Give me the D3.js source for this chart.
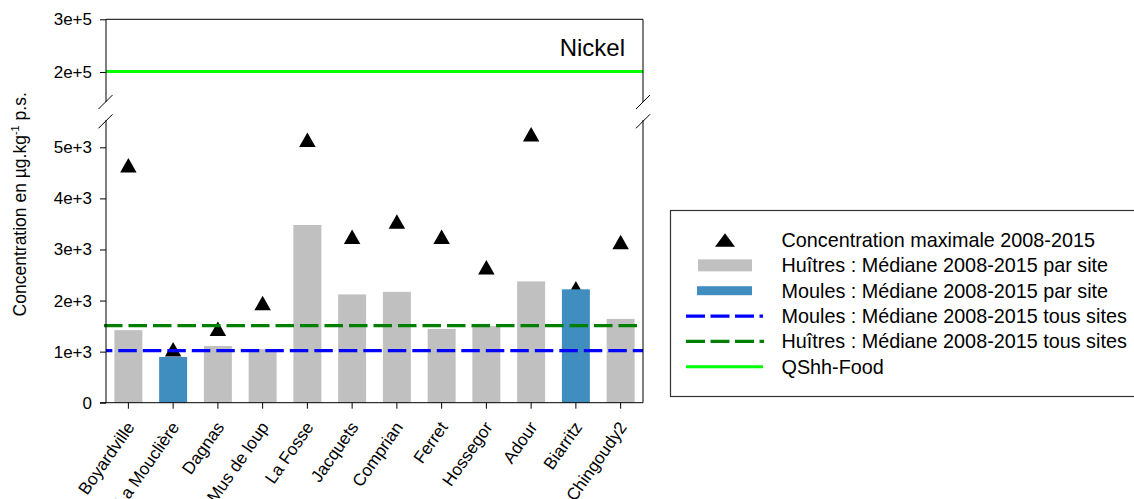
<!DOCTYPE html>
<html>
<head>
<meta charset="utf-8">
<script src="https://cdn.jsdelivr.net/npm/d3@7"></script>
<style>
  html, body { margin: 0; padding: 0; background: #fff; }
  svg { display: block; font-family: "Liberation Sans", Arial, sans-serif; }
</style>
</head>
<body>
<svg id="chart" width="1134" height="499"></svg>
<script>
// Sampling sites along the coast
const sites = ["Boyardville", "La Mouclière", "Dagnas", "Mus de loup", "La Fosse", "Jacquets",
               "Comprian", "Ferret", "Hossegor", "Adour", "Biarritz", "Chingoudy2"];
// Species monitored at each site: H = huîtres, M = moules
const species = ["H", "M", "H", "H", "H", "H", "H", "H", "H", "H", "M", "H"];
// Median nickel concentration 2008-2015 per site (µg/kg p.s.)
const medianPerSite = [1420, 895, 1110, 1050, 3480, 2120, 2170, 1445, 1500, 2375, 2220, 1640];
// Maximum concentration 2008-2015 per site
const maxPerSite = [4650, 1045, 1450, 1950, 5150, 3250, 3550, 3250, 2650, 5255, 2240, 3145];
// Reference levels
const medianAllMussels = 1020;
const medianAllOysters = 1510;
const qshhFood = 201000;

// Axis ticks for both panels of the broken axis
const lowerTicks = [0, 1000, 2000, 3000, 4000, 5000];
const lowerTickLabels = ["0", "1e+3", "2e+3", "3e+3", "4e+3", "5e+3"];
const upperTicks = [200000, 300000];
const upperTickLabels = ["2e+5", "3e+5"];

const legendItems = [
  "Concentration maximale 2008-2015",
  "Huîtres : Médiane 2008-2015 par site",
  "Moules : Médiane 2008-2015 par site",
  "Moules : Médiane 2008-2015 tous sites",
  "Huîtres : Médiane 2008-2015 tous sites",
  "QShh-Food"
];

const colors = { H: "#c0c0c0", M: "#408dbf", mussels: "#0000ff", oysters: "#008000", qshh: "#00ff00" };

const svg = d3.select("#chart");
const left = 106, right = 643;
const lowerTop = 120, lowerBottom = 402.7;
const upperTop = 19.3, upperBottom = 102;

const x = d3.scaleBand().domain(sites).range([left, right]).paddingInner(0.375).paddingOuter(0.1875);
const yLow = d3.scaleLinear().domain([0, 5535]).range([lowerBottom, lowerTop]);
const yUp = d3.scaleLinear().domain([143000, 300000]).range([upperBottom, upperTop]);

const fontTick = 17;

// Maximum concentrations (drawn first, bars sit in front)
const triW = 16.5, triH = 14.5;
const tri = (w, h) => `M0,${-h / 2}L${w / 2},${h / 2}L${-w / 2},${h / 2}Z`;
svg.append("g").selectAll("path").data(sites).join("path")
  .attr("d", tri(triW, triH))
  .attr("transform", (d, i) => `translate(${x(d) + x.bandwidth() / 2},${yLow(maxPerSite[i])})`)
  .attr("fill", "#000");

// Median bars per site
svg.append("g").selectAll("rect").data(sites).join("rect")
  .attr("x", d => x(d))
  .attr("width", x.bandwidth())
  .attr("y", (d, i) => yLow(medianPerSite[i]))
  .attr("height", (d, i) => yLow(0) - yLow(medianPerSite[i]))
  .attr("fill", (d, i) => colors[species[i]]);

// Median over all sites
svg.append("line")
  .attr("x1", left - 2).attr("x2", right)
  .attr("y1", yLow(medianAllOysters)).attr("y2", yLow(medianAllOysters))
  .attr("stroke", colors.oysters).attr("stroke-width", 3.2)
  .attr("stroke-dasharray", "18.5,6");
svg.append("line")
  .attr("x1", left).attr("x2", right)
  .attr("y1", yLow(medianAllMussels)).attr("y2", yLow(medianAllMussels))
  .attr("stroke", colors.mussels).attr("stroke-width", 3.2)
  .attr("stroke-dasharray", "18.5,6").attr("stroke-dashoffset", 12.2);

// QShh-Food threshold in the upper panel
svg.append("line")
  .attr("x1", left).attr("x2", right)
  .attr("y1", yUp(qshhFood)).attr("y2", yUp(qshhFood))
  .attr("stroke", colors.qshh).attr("stroke-width", 3);

// Axes
const axisStyle = g => {
  g.selectAll("text").attr("font-size", fontTick).attr("fill", "#000")
    .attr("font-family", "'Liberation Sans', Arial, sans-serif");
  g.selectAll("line").attr("stroke", "#000");
  g.select(".domain").remove();
};

svg.append("g").attr("transform", `translate(${left},0)`)
  .call(d3.axisLeft(yLow).tickValues(lowerTicks).tickFormat((d, i) => lowerTickLabels[i]).tickSize(6).tickPadding(8))
  .call(axisStyle);
svg.append("g").attr("transform", `translate(${left},0)`)
  .call(d3.axisLeft(yUp).tickValues(upperTicks).tickFormat((d, i) => upperTickLabels[i]).tickSize(6).tickPadding(8))
  .call(axisStyle);

const xAxis = svg.append("g").attr("transform", `translate(0,${lowerBottom})`)
  .call(d3.axisBottom(x).tickSize(6).tickFormat(""));
xAxis.select(".domain").remove();
xAxis.selectAll("line").attr("stroke", "#000");

// Rotated site names
svg.append("g").selectAll("text").data(sites).join("text")
  .attr("transform", d => `translate(${x(d) + x.bandwidth() / 2 + 2},${lowerBottom + 21}) rotate(-55)`)
  .attr("text-anchor", "end")
  .attr("dy", "0.35em")
  .attr("font-size", 17.2)
  .text(d => d);

// Frame lines of both panels
const frame = svg.append("g").attr("stroke", "#000").attr("stroke-width", 1).attr("fill", "none");
frame.append("path").attr("d", `M${left},${upperBottom}V${upperTop}H${right}V${upperBottom}`);
frame.append("path").attr("d", `M${left},${lowerTop}V${lowerBottom}H${right}V${lowerTop}`);
frame.append("line").attr("x1", left - 6).attr("x2", left).attr("y1", lowerBottom).attr("y2", lowerBottom);

// Axis break marks
[left - 0.5, right].forEach(cx => {
  [upperBottom, lowerTop + 1.3].forEach(cy => {
    frame.append("line")
      .attr("x1", cx - 7).attr("y1", cy + 7)
      .attr("x2", cx + 7).attr("y2", cy - 7);
  });
});

// Panel title
svg.append("text").attr("x", 625).attr("y", 55.7).attr("text-anchor", "end")
  .attr("font-size", 24).text("Nickel");

// Y axis title
const yTitle = svg.append("text")
  .attr("transform", "translate(25.5,204.3) rotate(-90)")
  .attr("text-anchor", "middle")
  .attr("font-size", 17.5);
yTitle.append("tspan").text("Concentration en µg.kg");
yTitle.append("tspan").attr("font-size", 11).attr("dy", -7).text("-1");
yTitle.append("tspan").attr("dy", 7).text(" p.s.");

// Legend
const lg = svg.append("g");
lg.append("rect").attr("x", 670.5).attr("y", 210.5).attr("width", 480).attr("height", 186)
  .attr("fill", "none").attr("stroke", "#333").attr("stroke-width", 1.2);
const rowY = i => 240 + i * 25.35;
const symX = 725;
lg.append("path").attr("d", tri(20, 13.5)).attr("transform", `translate(${symX},${rowY(0)})`).attr("fill", "#000");
lg.append("rect").attr("x", 698).attr("y", rowY(1) - 6).attr("width", 54).attr("height", 12).attr("fill", colors.H);
lg.append("rect").attr("x", 697).attr("y", rowY(2) - 4.5).attr("width", 55).attr("height", 9).attr("fill", colors.M);
lg.append("line").attr("x1", 686).attr("x2", 763).attr("y1", rowY(3)).attr("y2", rowY(3))
  .attr("stroke", colors.mussels).attr("stroke-width", 3.3).attr("stroke-dasharray", "19,5.5");
lg.append("line").attr("x1", 686).attr("x2", 764).attr("y1", rowY(4)).attr("y2", rowY(4))
  .attr("stroke", colors.oysters).attr("stroke-width", 3.3).attr("stroke-dasharray", "19,5.5");
lg.append("line").attr("x1", 686).attr("x2", 763).attr("y1", rowY(5)).attr("y2", rowY(5))
  .attr("stroke", colors.qshh).attr("stroke-width", 3);
lg.selectAll("text.item").data(legendItems).join("text")
  .attr("class", "item")
  .attr("x", 781.5).attr("y", (d, i) => rowY(i) + 7)
  .attr("font-size", 19.8)
  .text(d => d);
</script>
</body>
</html>
